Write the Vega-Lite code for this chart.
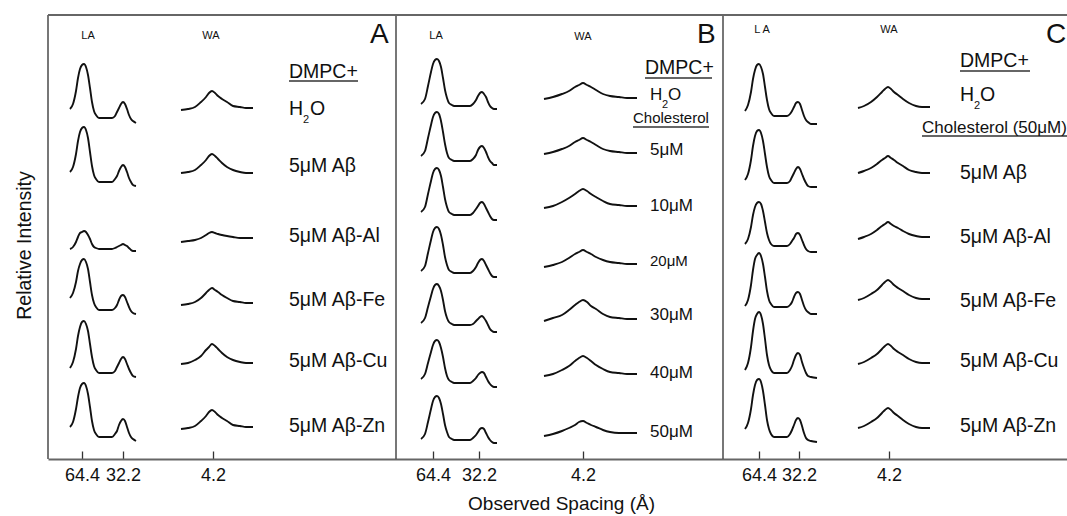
{
"$schema": "https://vega.github.io/schema/vega-lite/v6.json",
"width": 1019, "height": 444,
"autosize": {"type": "none"},
"padding": {"left": 48, "top": 15, "right": 0, "bottom": 57},
"background": "white",
"config": {"view": {"stroke": null}, "font": "Liberation Sans"},
"resolve": {"axis": {"x": "independent", "y": "independent"}},
"datasets": {
"curves": [
{"s":"A1L","x":22,"y":350},{"s":"A1L","x":25,"y":355},{"s":"A1L","x":28,"y":368},{"s":"A1L","x":30,"y":381},{"s":"A1L","x":32,"y":390},{"s":"A1L","x":34,"y":394},{"s":"A1L","x":36,"y":395},{"s":"A1L","x":38,"y":392},{"s":"A1L","x":40,"y":384},{"s":"A1L","x":42,"y":371},{"s":"A1L","x":44,"y":357},{"s":"A1L","x":46,"y":348},{"s":"A1L","x":48,"y":344},{"s":"A1L","x":51,"y":341},{"s":"A1L","x":58,"y":341},{"s":"A1L","x":64,"y":341},{"s":"A1L","x":67,"y":343},{"s":"A1L","x":69,"y":347},{"s":"A1L","x":71,"y":351},{"s":"A1L","x":73,"y":355},{"s":"A1L","x":75,"y":357},{"s":"A1L","x":77,"y":355},{"s":"A1L","x":79,"y":350},{"s":"A1L","x":81,"y":344},{"s":"A1L","x":83,"y":340},{"s":"A1L","x":85,"y":338},{"s":"A1L","x":88,"y":336},
{"s":"A2L","x":22,"y":287},{"s":"A2L","x":25,"y":292},{"s":"A2L","x":28,"y":305},{"s":"A2L","x":30,"y":318},{"s":"A2L","x":32,"y":327},{"s":"A2L","x":34,"y":331},{"s":"A2L","x":36,"y":332},{"s":"A2L","x":38,"y":329},{"s":"A2L","x":40,"y":321},{"s":"A2L","x":42,"y":307},{"s":"A2L","x":44,"y":293},{"s":"A2L","x":46,"y":284},{"s":"A2L","x":48,"y":280},{"s":"A2L","x":51,"y":277},{"s":"A2L","x":58,"y":277},{"s":"A2L","x":64,"y":277},{"s":"A2L","x":67,"y":280},{"s":"A2L","x":69,"y":283},{"s":"A2L","x":71,"y":288},{"s":"A2L","x":73,"y":292},{"s":"A2L","x":75,"y":294},{"s":"A2L","x":77,"y":292},{"s":"A2L","x":79,"y":287},{"s":"A2L","x":81,"y":281},{"s":"A2L","x":83,"y":277},{"s":"A2L","x":85,"y":274},{"s":"A2L","x":88,"y":273},
{"s":"A3L","x":22,"y":210},{"s":"A3L","x":25,"y":212},{"s":"A3L","x":28,"y":217},{"s":"A3L","x":30,"y":222},{"s":"A3L","x":32,"y":226},{"s":"A3L","x":34,"y":227},{"s":"A3L","x":36,"y":228},{"s":"A3L","x":38,"y":227},{"s":"A3L","x":40,"y":224},{"s":"A3L","x":42,"y":220},{"s":"A3L","x":44,"y":215},{"s":"A3L","x":46,"y":212},{"s":"A3L","x":48,"y":211},{"s":"A3L","x":51,"y":210},{"s":"A3L","x":58,"y":210},{"s":"A3L","x":64,"y":210},{"s":"A3L","x":67,"y":211},{"s":"A3L","x":69,"y":212},{"s":"A3L","x":71,"y":213},{"s":"A3L","x":73,"y":214},{"s":"A3L","x":75,"y":215},{"s":"A3L","x":77,"y":214},{"s":"A3L","x":79,"y":213},{"s":"A3L","x":81,"y":211},{"s":"A3L","x":83,"y":209},{"s":"A3L","x":85,"y":208},{"s":"A3L","x":88,"y":208},
{"s":"A4L","x":22,"y":161},{"s":"A4L","x":25,"y":166},{"s":"A4L","x":28,"y":177},{"s":"A4L","x":30,"y":188},{"s":"A4L","x":32,"y":195},{"s":"A4L","x":34,"y":199},{"s":"A4L","x":36,"y":200},{"s":"A4L","x":38,"y":197},{"s":"A4L","x":40,"y":190},{"s":"A4L","x":42,"y":177},{"s":"A4L","x":44,"y":164},{"s":"A4L","x":46,"y":156},{"s":"A4L","x":48,"y":152},{"s":"A4L","x":51,"y":149},{"s":"A4L","x":58,"y":149},{"s":"A4L","x":64,"y":149},{"s":"A4L","x":67,"y":151},{"s":"A4L","x":69,"y":154},{"s":"A4L","x":71,"y":159},{"s":"A4L","x":73,"y":163},{"s":"A4L","x":75,"y":164},{"s":"A4L","x":77,"y":162},{"s":"A4L","x":79,"y":157},{"s":"A4L","x":81,"y":152},{"s":"A4L","x":83,"y":148},{"s":"A4L","x":85,"y":146},{"s":"A4L","x":88,"y":145},
{"s":"A5L","x":22,"y":91},{"s":"A5L","x":25,"y":97},{"s":"A5L","x":28,"y":110},{"s":"A5L","x":30,"y":123},{"s":"A5L","x":32,"y":132},{"s":"A5L","x":34,"y":137},{"s":"A5L","x":36,"y":138},{"s":"A5L","x":38,"y":135},{"s":"A5L","x":40,"y":128},{"s":"A5L","x":42,"y":115},{"s":"A5L","x":44,"y":102},{"s":"A5L","x":46,"y":93},{"s":"A5L","x":48,"y":89},{"s":"A5L","x":51,"y":86},{"s":"A5L","x":58,"y":86},{"s":"A5L","x":64,"y":86},{"s":"A5L","x":67,"y":88},{"s":"A5L","x":69,"y":92},{"s":"A5L","x":71,"y":96},{"s":"A5L","x":73,"y":100},{"s":"A5L","x":75,"y":102},{"s":"A5L","x":77,"y":100},{"s":"A5L","x":79,"y":95},{"s":"A5L","x":81,"y":90},{"s":"A5L","x":83,"y":86},{"s":"A5L","x":85,"y":83},{"s":"A5L","x":88,"y":82},
{"s":"A6L","x":22,"y":32},{"s":"A6L","x":25,"y":37},{"s":"A6L","x":28,"y":50},{"s":"A6L","x":30,"y":62},{"s":"A6L","x":32,"y":71},{"s":"A6L","x":34,"y":75},{"s":"A6L","x":36,"y":76},{"s":"A6L","x":38,"y":73},{"s":"A6L","x":40,"y":65},{"s":"A6L","x":42,"y":52},{"s":"A6L","x":44,"y":38},{"s":"A6L","x":46,"y":29},{"s":"A6L","x":48,"y":25},{"s":"A6L","x":51,"y":22},{"s":"A6L","x":58,"y":22},{"s":"A6L","x":64,"y":22},{"s":"A6L","x":67,"y":25},{"s":"A6L","x":69,"y":28},{"s":"A6L","x":71,"y":34},{"s":"A6L","x":73,"y":38},{"s":"A6L","x":75,"y":40},{"s":"A6L","x":77,"y":38},{"s":"A6L","x":79,"y":32},{"s":"A6L","x":81,"y":26},{"s":"A6L","x":83,"y":22},{"s":"A6L","x":85,"y":20},{"s":"A6L","x":88,"y":18},
{"s":"A1W","x":133,"y":349},{"s":"A1W","x":140,"y":350},{"s":"A1W","x":147,"y":352},{"s":"A1W","x":153,"y":357},{"s":"A1W","x":158,"y":362},{"s":"A1W","x":161,"y":366},{"s":"A1W","x":164,"y":368},{"s":"A1W","x":167,"y":366},{"s":"A1W","x":170,"y":363},{"s":"A1W","x":174,"y":360},{"s":"A1W","x":179,"y":357},{"s":"A1W","x":185,"y":353},{"s":"A1W","x":192,"y":352},{"s":"A1W","x":198,"y":351},{"s":"A1W","x":205,"y":351},
{"s":"A2W","x":133,"y":286},{"s":"A2W","x":140,"y":287},{"s":"A2W","x":147,"y":289},{"s":"A2W","x":153,"y":294},{"s":"A2W","x":158,"y":299},{"s":"A2W","x":161,"y":303},{"s":"A2W","x":164,"y":305},{"s":"A2W","x":167,"y":303},{"s":"A2W","x":170,"y":300},{"s":"A2W","x":174,"y":296},{"s":"A2W","x":179,"y":292},{"s":"A2W","x":185,"y":289},{"s":"A2W","x":192,"y":287},{"s":"A2W","x":198,"y":286},{"s":"A2W","x":205,"y":286},
{"s":"A3W","x":133,"y":217},{"s":"A3W","x":140,"y":218},{"s":"A3W","x":147,"y":219},{"s":"A3W","x":153,"y":221},{"s":"A3W","x":158,"y":224},{"s":"A3W","x":161,"y":226},{"s":"A3W","x":164,"y":227},{"s":"A3W","x":167,"y":226},{"s":"A3W","x":170,"y":225},{"s":"A3W","x":174,"y":224},{"s":"A3W","x":179,"y":223},{"s":"A3W","x":185,"y":222},{"s":"A3W","x":192,"y":221},{"s":"A3W","x":198,"y":221},{"s":"A3W","x":205,"y":221},
{"s":"A4W","x":133,"y":154},{"s":"A4W","x":140,"y":155},{"s":"A4W","x":147,"y":157},{"s":"A4W","x":153,"y":161},{"s":"A4W","x":158,"y":166},{"s":"A4W","x":161,"y":169},{"s":"A4W","x":164,"y":171},{"s":"A4W","x":167,"y":169},{"s":"A4W","x":170,"y":167},{"s":"A4W","x":174,"y":164},{"s":"A4W","x":179,"y":161},{"s":"A4W","x":185,"y":158},{"s":"A4W","x":192,"y":157},{"s":"A4W","x":198,"y":156},{"s":"A4W","x":205,"y":156},
{"s":"A5W","x":133,"y":95},{"s":"A5W","x":140,"y":96},{"s":"A5W","x":147,"y":99},{"s":"A5W","x":153,"y":103},{"s":"A5W","x":158,"y":109},{"s":"A5W","x":161,"y":112},{"s":"A5W","x":164,"y":115},{"s":"A5W","x":167,"y":113},{"s":"A5W","x":170,"y":110},{"s":"A5W","x":174,"y":106},{"s":"A5W","x":179,"y":102},{"s":"A5W","x":185,"y":99},{"s":"A5W","x":192,"y":97},{"s":"A5W","x":198,"y":96},{"s":"A5W","x":205,"y":96},
{"s":"A6W","x":133,"y":30},{"s":"A6W","x":140,"y":31},{"s":"A6W","x":147,"y":33},{"s":"A6W","x":153,"y":38},{"s":"A6W","x":158,"y":43},{"s":"A6W","x":161,"y":47},{"s":"A6W","x":164,"y":49},{"s":"A6W","x":167,"y":47},{"s":"A6W","x":170,"y":44},{"s":"A6W","x":174,"y":41},{"s":"A6W","x":179,"y":38},{"s":"A6W","x":185,"y":34},{"s":"A6W","x":192,"y":33},{"s":"A6W","x":198,"y":32},{"s":"A6W","x":205,"y":32},
{"s":"B1L","x":373,"y":355},{"s":"B1L","x":377,"y":360},{"s":"B1L","x":380,"y":373},{"s":"B1L","x":383,"y":387},{"s":"B1L","x":385,"y":395},{"s":"B1L","x":387,"y":399},{"s":"B1L","x":389,"y":400},{"s":"B1L","x":391,"y":398},{"s":"B1L","x":393,"y":392},{"s":"B1L","x":395,"y":381},{"s":"B1L","x":397,"y":369},{"s":"B1L","x":399,"y":361},{"s":"B1L","x":401,"y":356},{"s":"B1L","x":404,"y":354},{"s":"B1L","x":406,"y":353},{"s":"B1L","x":414,"y":353},{"s":"B1L","x":422,"y":353},{"s":"B1L","x":425,"y":355},{"s":"B1L","x":428,"y":359},{"s":"B1L","x":430,"y":363},{"s":"B1L","x":432,"y":366},{"s":"B1L","x":434,"y":367},{"s":"B1L","x":436,"y":365},{"s":"B1L","x":438,"y":362},{"s":"B1L","x":440,"y":357},{"s":"B1L","x":442,"y":353},{"s":"B1L","x":444,"y":351},{"s":"B1L","x":446,"y":350},{"s":"B1L","x":449,"y":350},
{"s":"B2L","x":373,"y":303},{"s":"B2L","x":377,"y":308},{"s":"B2L","x":380,"y":321},{"s":"B2L","x":383,"y":334},{"s":"B2L","x":385,"y":342},{"s":"B2L","x":387,"y":346},{"s":"B2L","x":389,"y":347},{"s":"B2L","x":391,"y":345},{"s":"B2L","x":393,"y":338},{"s":"B2L","x":395,"y":327},{"s":"B2L","x":397,"y":315},{"s":"B2L","x":399,"y":306},{"s":"B2L","x":401,"y":301},{"s":"B2L","x":404,"y":299},{"s":"B2L","x":406,"y":298},{"s":"B2L","x":414,"y":298},{"s":"B2L","x":422,"y":298},{"s":"B2L","x":425,"y":300},{"s":"B2L","x":428,"y":304},{"s":"B2L","x":430,"y":309},{"s":"B2L","x":432,"y":312},{"s":"B2L","x":434,"y":313},{"s":"B2L","x":436,"y":311},{"s":"B2L","x":438,"y":307},{"s":"B2L","x":440,"y":302},{"s":"B2L","x":442,"y":298},{"s":"B2L","x":444,"y":296},{"s":"B2L","x":446,"y":294},{"s":"B2L","x":449,"y":294},
{"s":"B3L","x":373,"y":247},{"s":"B3L","x":377,"y":252},{"s":"B3L","x":380,"y":265},{"s":"B3L","x":383,"y":278},{"s":"B3L","x":385,"y":286},{"s":"B3L","x":387,"y":290},{"s":"B3L","x":389,"y":291},{"s":"B3L","x":391,"y":289},{"s":"B3L","x":393,"y":283},{"s":"B3L","x":395,"y":272},{"s":"B3L","x":397,"y":260},{"s":"B3L","x":399,"y":252},{"s":"B3L","x":401,"y":247},{"s":"B3L","x":404,"y":245},{"s":"B3L","x":406,"y":244},{"s":"B3L","x":414,"y":244},{"s":"B3L","x":422,"y":244},{"s":"B3L","x":425,"y":246},{"s":"B3L","x":428,"y":250},{"s":"B3L","x":430,"y":253},{"s":"B3L","x":432,"y":256},{"s":"B3L","x":434,"y":257},{"s":"B3L","x":436,"y":255},{"s":"B3L","x":438,"y":251},{"s":"B3L","x":440,"y":247},{"s":"B3L","x":442,"y":243},{"s":"B3L","x":444,"y":240},{"s":"B3L","x":446,"y":239},{"s":"B3L","x":449,"y":239},
{"s":"B4L","x":373,"y":188},{"s":"B4L","x":377,"y":193},{"s":"B4L","x":380,"y":206},{"s":"B4L","x":383,"y":219},{"s":"B4L","x":385,"y":227},{"s":"B4L","x":387,"y":231},{"s":"B4L","x":389,"y":232},{"s":"B4L","x":391,"y":230},{"s":"B4L","x":393,"y":224},{"s":"B4L","x":395,"y":214},{"s":"B4L","x":397,"y":202},{"s":"B4L","x":399,"y":194},{"s":"B4L","x":401,"y":189},{"s":"B4L","x":404,"y":187},{"s":"B4L","x":406,"y":186},{"s":"B4L","x":414,"y":186},{"s":"B4L","x":422,"y":186},{"s":"B4L","x":425,"y":188},{"s":"B4L","x":428,"y":192},{"s":"B4L","x":430,"y":196},{"s":"B4L","x":432,"y":199},{"s":"B4L","x":434,"y":200},{"s":"B4L","x":436,"y":198},{"s":"B4L","x":438,"y":194},{"s":"B4L","x":440,"y":190},{"s":"B4L","x":442,"y":186},{"s":"B4L","x":444,"y":183},{"s":"B4L","x":446,"y":182},{"s":"B4L","x":449,"y":182},
{"s":"B5L","x":373,"y":136},{"s":"B5L","x":377,"y":141},{"s":"B5L","x":380,"y":152},{"s":"B5L","x":383,"y":163},{"s":"B5L","x":385,"y":170},{"s":"B5L","x":387,"y":174},{"s":"B5L","x":389,"y":175},{"s":"B5L","x":391,"y":173},{"s":"B5L","x":393,"y":168},{"s":"B5L","x":395,"y":159},{"s":"B5L","x":397,"y":148},{"s":"B5L","x":399,"y":141},{"s":"B5L","x":401,"y":137},{"s":"B5L","x":404,"y":135},{"s":"B5L","x":406,"y":134},{"s":"B5L","x":414,"y":134},{"s":"B5L","x":422,"y":134},{"s":"B5L","x":425,"y":135},{"s":"B5L","x":428,"y":138},{"s":"B5L","x":430,"y":140},{"s":"B5L","x":432,"y":142},{"s":"B5L","x":434,"y":143},{"s":"B5L","x":436,"y":141},{"s":"B5L","x":438,"y":138},{"s":"B5L","x":440,"y":134},{"s":"B5L","x":442,"y":130},{"s":"B5L","x":444,"y":128},{"s":"B5L","x":446,"y":127},{"s":"B5L","x":449,"y":127},
{"s":"B6L","x":373,"y":80},{"s":"B6L","x":377,"y":85},{"s":"B6L","x":380,"y":96},{"s":"B6L","x":383,"y":107},{"s":"B6L","x":385,"y":114},{"s":"B6L","x":387,"y":118},{"s":"B6L","x":389,"y":119},{"s":"B6L","x":391,"y":117},{"s":"B6L","x":393,"y":111},{"s":"B6L","x":395,"y":102},{"s":"B6L","x":397,"y":91},{"s":"B6L","x":399,"y":83},{"s":"B6L","x":401,"y":79},{"s":"B6L","x":404,"y":77},{"s":"B6L","x":406,"y":76},{"s":"B6L","x":414,"y":76},{"s":"B6L","x":422,"y":76},{"s":"B6L","x":425,"y":78},{"s":"B6L","x":428,"y":81},{"s":"B6L","x":430,"y":84},{"s":"B6L","x":432,"y":86},{"s":"B6L","x":434,"y":87},{"s":"B6L","x":436,"y":86},{"s":"B6L","x":438,"y":82},{"s":"B6L","x":440,"y":78},{"s":"B6L","x":442,"y":75},{"s":"B6L","x":444,"y":73},{"s":"B6L","x":446,"y":72},{"s":"B6L","x":449,"y":72},
{"s":"B7L","x":373,"y":20},{"s":"B7L","x":377,"y":25},{"s":"B7L","x":380,"y":37},{"s":"B7L","x":383,"y":50},{"s":"B7L","x":385,"y":58},{"s":"B7L","x":387,"y":62},{"s":"B7L","x":389,"y":63},{"s":"B7L","x":391,"y":61},{"s":"B7L","x":393,"y":55},{"s":"B7L","x":395,"y":45},{"s":"B7L","x":397,"y":34},{"s":"B7L","x":399,"y":27},{"s":"B7L","x":401,"y":22},{"s":"B7L","x":404,"y":20},{"s":"B7L","x":406,"y":19},{"s":"B7L","x":414,"y":19},{"s":"B7L","x":422,"y":19},{"s":"B7L","x":425,"y":21},{"s":"B7L","x":428,"y":24},{"s":"B7L","x":430,"y":27},{"s":"B7L","x":432,"y":30},{"s":"B7L","x":434,"y":31},{"s":"B7L","x":436,"y":30},{"s":"B7L","x":438,"y":26},{"s":"B7L","x":440,"y":22},{"s":"B7L","x":442,"y":19},{"s":"B7L","x":444,"y":17},{"s":"B7L","x":446,"y":16},{"s":"B7L","x":449,"y":16},
{"s":"B1W","x":496,"y":360},{"s":"B1W","x":505,"y":362},{"s":"B1W","x":514,"y":365},{"s":"B1W","x":521,"y":368},{"s":"B1W","x":527,"y":372},{"s":"B1W","x":531,"y":374},{"s":"B1W","x":535,"y":376},{"s":"B1W","x":539,"y":374},{"s":"B1W","x":543,"y":372},{"s":"B1W","x":548,"y":369},{"s":"B1W","x":555,"y":365},{"s":"B1W","x":562,"y":363},{"s":"B1W","x":571,"y":362},{"s":"B1W","x":579,"y":361},{"s":"B1W","x":589,"y":361},
{"s":"B2W","x":496,"y":305},{"s":"B2W","x":505,"y":307},{"s":"B2W","x":514,"y":310},{"s":"B2W","x":521,"y":313},{"s":"B2W","x":527,"y":317},{"s":"B2W","x":531,"y":319},{"s":"B2W","x":535,"y":321},{"s":"B2W","x":539,"y":319},{"s":"B2W","x":543,"y":317},{"s":"B2W","x":548,"y":314},{"s":"B2W","x":555,"y":310},{"s":"B2W","x":562,"y":308},{"s":"B2W","x":571,"y":307},{"s":"B2W","x":579,"y":306},{"s":"B2W","x":589,"y":306},
{"s":"B3W","x":496,"y":251},{"s":"B3W","x":505,"y":253},{"s":"B3W","x":514,"y":257},{"s":"B3W","x":521,"y":261},{"s":"B3W","x":527,"y":265},{"s":"B3W","x":531,"y":268},{"s":"B3W","x":535,"y":270},{"s":"B3W","x":539,"y":268},{"s":"B3W","x":543,"y":265},{"s":"B3W","x":548,"y":262},{"s":"B3W","x":555,"y":258},{"s":"B3W","x":562,"y":255},{"s":"B3W","x":571,"y":254},{"s":"B3W","x":579,"y":253},{"s":"B3W","x":589,"y":253},
{"s":"B4W","x":496,"y":192},{"s":"B4W","x":505,"y":194},{"s":"B4W","x":514,"y":197},{"s":"B4W","x":521,"y":201},{"s":"B4W","x":527,"y":205},{"s":"B4W","x":531,"y":207},{"s":"B4W","x":535,"y":209},{"s":"B4W","x":539,"y":207},{"s":"B4W","x":543,"y":205},{"s":"B4W","x":548,"y":202},{"s":"B4W","x":555,"y":199},{"s":"B4W","x":562,"y":197},{"s":"B4W","x":571,"y":196},{"s":"B4W","x":579,"y":195},{"s":"B4W","x":589,"y":195},
{"s":"B5W","x":496,"y":138},{"s":"B5W","x":505,"y":141},{"s":"B5W","x":514,"y":144},{"s":"B5W","x":521,"y":149},{"s":"B5W","x":527,"y":154},{"s":"B5W","x":531,"y":157},{"s":"B5W","x":535,"y":159},{"s":"B5W","x":539,"y":157},{"s":"B5W","x":543,"y":153},{"s":"B5W","x":548,"y":150},{"s":"B5W","x":555,"y":145},{"s":"B5W","x":562,"y":142},{"s":"B5W","x":571,"y":141},{"s":"B5W","x":579,"y":140},{"s":"B5W","x":589,"y":140},
{"s":"B6W","x":496,"y":83},{"s":"B6W","x":505,"y":85},{"s":"B6W","x":514,"y":89},{"s":"B6W","x":521,"y":93},{"s":"B6W","x":527,"y":98},{"s":"B6W","x":531,"y":101},{"s":"B6W","x":535,"y":103},{"s":"B6W","x":539,"y":101},{"s":"B6W","x":543,"y":98},{"s":"B6W","x":548,"y":94},{"s":"B6W","x":555,"y":90},{"s":"B6W","x":562,"y":87},{"s":"B6W","x":571,"y":86},{"s":"B6W","x":579,"y":85},{"s":"B6W","x":589,"y":85},
{"s":"B7W","x":496,"y":23},{"s":"B7W","x":505,"y":25},{"s":"B7W","x":514,"y":28},{"s":"B7W","x":521,"y":31},{"s":"B7W","x":527,"y":34},{"s":"B7W","x":531,"y":37},{"s":"B7W","x":535,"y":38},{"s":"B7W","x":539,"y":36},{"s":"B7W","x":543,"y":34},{"s":"B7W","x":548,"y":32},{"s":"B7W","x":555,"y":29},{"s":"B7W","x":562,"y":27},{"s":"B7W","x":571,"y":26},{"s":"B7W","x":579,"y":26},{"s":"B7W","x":589,"y":26},
{"s":"C1L","x":697,"y":348},{"s":"C1L","x":700,"y":354},{"s":"C1L","x":703,"y":367},{"s":"C1L","x":705,"y":380},{"s":"C1L","x":707,"y":389},{"s":"C1L","x":709,"y":394},{"s":"C1L","x":711,"y":395},{"s":"C1L","x":713,"y":392},{"s":"C1L","x":715,"y":385},{"s":"C1L","x":717,"y":372},{"s":"C1L","x":719,"y":359},{"s":"C1L","x":721,"y":350},{"s":"C1L","x":723,"y":346},{"s":"C1L","x":726,"y":343},{"s":"C1L","x":732,"y":343},{"s":"C1L","x":739,"y":343},{"s":"C1L","x":742,"y":345},{"s":"C1L","x":744,"y":348},{"s":"C1L","x":746,"y":352},{"s":"C1L","x":748,"y":356},{"s":"C1L","x":750,"y":357},{"s":"C1L","x":752,"y":355},{"s":"C1L","x":754,"y":349},{"s":"C1L","x":756,"y":343},{"s":"C1L","x":758,"y":339},{"s":"C1L","x":760,"y":337},{"s":"C1L","x":763,"y":335},{"s":"C1L","x":769,"y":335},
{"s":"C2L","x":697,"y":279},{"s":"C2L","x":700,"y":285},{"s":"C2L","x":703,"y":299},{"s":"C2L","x":705,"y":313},{"s":"C2L","x":707,"y":323},{"s":"C2L","x":709,"y":328},{"s":"C2L","x":711,"y":329},{"s":"C2L","x":713,"y":326},{"s":"C2L","x":715,"y":318},{"s":"C2L","x":717,"y":305},{"s":"C2L","x":719,"y":292},{"s":"C2L","x":721,"y":283},{"s":"C2L","x":723,"y":279},{"s":"C2L","x":726,"y":276},{"s":"C2L","x":732,"y":276},{"s":"C2L","x":739,"y":276},{"s":"C2L","x":742,"y":278},{"s":"C2L","x":744,"y":282},{"s":"C2L","x":746,"y":286},{"s":"C2L","x":748,"y":290},{"s":"C2L","x":750,"y":292},{"s":"C2L","x":752,"y":290},{"s":"C2L","x":754,"y":285},{"s":"C2L","x":756,"y":280},{"s":"C2L","x":758,"y":276},{"s":"C2L","x":760,"y":273},{"s":"C2L","x":763,"y":272},{"s":"C2L","x":769,"y":272},
{"s":"C3L","x":697,"y":215},{"s":"C3L","x":700,"y":220},{"s":"C3L","x":703,"y":232},{"s":"C3L","x":705,"y":244},{"s":"C3L","x":707,"y":252},{"s":"C3L","x":709,"y":256},{"s":"C3L","x":711,"y":257},{"s":"C3L","x":713,"y":255},{"s":"C3L","x":715,"y":248},{"s":"C3L","x":717,"y":237},{"s":"C3L","x":719,"y":226},{"s":"C3L","x":721,"y":219},{"s":"C3L","x":723,"y":215},{"s":"C3L","x":726,"y":213},{"s":"C3L","x":732,"y":213},{"s":"C3L","x":739,"y":213},{"s":"C3L","x":742,"y":215},{"s":"C3L","x":744,"y":218},{"s":"C3L","x":746,"y":221},{"s":"C3L","x":748,"y":225},{"s":"C3L","x":750,"y":226},{"s":"C3L","x":752,"y":224},{"s":"C3L","x":754,"y":219},{"s":"C3L","x":756,"y":214},{"s":"C3L","x":758,"y":210},{"s":"C3L","x":760,"y":208},{"s":"C3L","x":763,"y":207},{"s":"C3L","x":769,"y":207},
{"s":"C4L","x":697,"y":153},{"s":"C4L","x":700,"y":159},{"s":"C4L","x":703,"y":174},{"s":"C4L","x":705,"y":189},{"s":"C4L","x":707,"y":200},{"s":"C4L","x":709,"y":204},{"s":"C4L","x":711,"y":206},{"s":"C4L","x":713,"y":203},{"s":"C4L","x":715,"y":195},{"s":"C4L","x":717,"y":182},{"s":"C4L","x":719,"y":168},{"s":"C4L","x":721,"y":159},{"s":"C4L","x":723,"y":155},{"s":"C4L","x":726,"y":152},{"s":"C4L","x":732,"y":152},{"s":"C4L","x":739,"y":152},{"s":"C4L","x":742,"y":154},{"s":"C4L","x":744,"y":157},{"s":"C4L","x":746,"y":162},{"s":"C4L","x":748,"y":166},{"s":"C4L","x":750,"y":167},{"s":"C4L","x":752,"y":165},{"s":"C4L","x":754,"y":159},{"s":"C4L","x":756,"y":153},{"s":"C4L","x":758,"y":149},{"s":"C4L","x":760,"y":147},{"s":"C4L","x":763,"y":145},{"s":"C4L","x":769,"y":145},
{"s":"C5L","x":697,"y":89},{"s":"C5L","x":700,"y":96},{"s":"C5L","x":703,"y":112},{"s":"C5L","x":705,"y":128},{"s":"C5L","x":707,"y":140},{"s":"C5L","x":709,"y":145},{"s":"C5L","x":711,"y":147},{"s":"C5L","x":713,"y":144},{"s":"C5L","x":715,"y":135},{"s":"C5L","x":717,"y":120},{"s":"C5L","x":719,"y":104},{"s":"C5L","x":721,"y":94},{"s":"C5L","x":723,"y":89},{"s":"C5L","x":726,"y":86},{"s":"C5L","x":732,"y":86},{"s":"C5L","x":739,"y":86},{"s":"C5L","x":742,"y":89},{"s":"C5L","x":744,"y":93},{"s":"C5L","x":746,"y":99},{"s":"C5L","x":748,"y":104},{"s":"C5L","x":750,"y":106},{"s":"C5L","x":752,"y":104},{"s":"C5L","x":754,"y":97},{"s":"C5L","x":756,"y":91},{"s":"C5L","x":758,"y":86},{"s":"C5L","x":760,"y":83},{"s":"C5L","x":763,"y":82},{"s":"C5L","x":769,"y":81},
{"s":"C6L","x":697,"y":30},{"s":"C6L","x":700,"y":36},{"s":"C6L","x":703,"y":50},{"s":"C6L","x":705,"y":64},{"s":"C6L","x":707,"y":74},{"s":"C6L","x":709,"y":79},{"s":"C6L","x":711,"y":80},{"s":"C6L","x":713,"y":77},{"s":"C6L","x":715,"y":68},{"s":"C6L","x":717,"y":54},{"s":"C6L","x":719,"y":39},{"s":"C6L","x":721,"y":30},{"s":"C6L","x":723,"y":25},{"s":"C6L","x":726,"y":22},{"s":"C6L","x":732,"y":22},{"s":"C6L","x":739,"y":22},{"s":"C6L","x":742,"y":25},{"s":"C6L","x":744,"y":29},{"s":"C6L","x":746,"y":34},{"s":"C6L","x":748,"y":39},{"s":"C6L","x":750,"y":41},{"s":"C6L","x":752,"y":39},{"s":"C6L","x":754,"y":33},{"s":"C6L","x":756,"y":26},{"s":"C6L","x":758,"y":21},{"s":"C6L","x":760,"y":19},{"s":"C6L","x":763,"y":18},{"s":"C6L","x":769,"y":17},
{"s":"C1W","x":810,"y":351},{"s":"C1W","x":816,"y":353},{"s":"C1W","x":823,"y":357},{"s":"C1W","x":829,"y":362},{"s":"C1W","x":834,"y":367},{"s":"C1W","x":837,"y":370},{"s":"C1W","x":840,"y":372},{"s":"C1W","x":843,"y":370},{"s":"C1W","x":846,"y":367},{"s":"C1W","x":850,"y":364},{"s":"C1W","x":855,"y":360},{"s":"C1W","x":861,"y":356},{"s":"C1W","x":868,"y":353},{"s":"C1W","x":874,"y":352},{"s":"C1W","x":882,"y":352},
{"s":"C2W","x":810,"y":286},{"s":"C2W","x":816,"y":288},{"s":"C2W","x":823,"y":291},{"s":"C2W","x":829,"y":295},{"s":"C2W","x":834,"y":299},{"s":"C2W","x":837,"y":301},{"s":"C2W","x":840,"y":303},{"s":"C2W","x":843,"y":301},{"s":"C2W","x":846,"y":299},{"s":"C2W","x":850,"y":296},{"s":"C2W","x":855,"y":293},{"s":"C2W","x":861,"y":289},{"s":"C2W","x":868,"y":287},{"s":"C2W","x":874,"y":286},{"s":"C2W","x":882,"y":286},
{"s":"C3W","x":810,"y":220},{"s":"C3W","x":816,"y":222},{"s":"C3W","x":823,"y":225},{"s":"C3W","x":829,"y":229},{"s":"C3W","x":834,"y":233},{"s":"C3W","x":837,"y":235},{"s":"C3W","x":840,"y":237},{"s":"C3W","x":843,"y":235},{"s":"C3W","x":846,"y":233},{"s":"C3W","x":850,"y":231},{"s":"C3W","x":855,"y":228},{"s":"C3W","x":861,"y":225},{"s":"C3W","x":868,"y":223},{"s":"C3W","x":874,"y":222},{"s":"C3W","x":882,"y":222},
{"s":"C4W","x":810,"y":159},{"s":"C4W","x":816,"y":161},{"s":"C4W","x":823,"y":165},{"s":"C4W","x":829,"y":169},{"s":"C4W","x":834,"y":174},{"s":"C4W","x":837,"y":177},{"s":"C4W","x":840,"y":179},{"s":"C4W","x":843,"y":177},{"s":"C4W","x":846,"y":174},{"s":"C4W","x":850,"y":171},{"s":"C4W","x":855,"y":168},{"s":"C4W","x":861,"y":164},{"s":"C4W","x":868,"y":161},{"s":"C4W","x":874,"y":160},{"s":"C4W","x":882,"y":160},
{"s":"C5W","x":810,"y":95},{"s":"C5W","x":816,"y":97},{"s":"C5W","x":823,"y":101},{"s":"C5W","x":829,"y":105},{"s":"C5W","x":834,"y":110},{"s":"C5W","x":837,"y":113},{"s":"C5W","x":840,"y":115},{"s":"C5W","x":843,"y":113},{"s":"C5W","x":846,"y":110},{"s":"C5W","x":850,"y":107},{"s":"C5W","x":855,"y":104},{"s":"C5W","x":861,"y":100},{"s":"C5W","x":868,"y":97},{"s":"C5W","x":874,"y":96},{"s":"C5W","x":882,"y":96},
{"s":"C6W","x":810,"y":31},{"s":"C6W","x":816,"y":33},{"s":"C6W","x":823,"y":37},{"s":"C6W","x":829,"y":41},{"s":"C6W","x":834,"y":46},{"s":"C6W","x":837,"y":49},{"s":"C6W","x":840,"y":51},{"s":"C6W","x":843,"y":49},{"s":"C6W","x":846,"y":46},{"s":"C6W","x":850,"y":43},{"s":"C6W","x":855,"y":39},{"s":"C6W","x":861,"y":35},{"s":"C6W","x":868,"y":32},{"s":"C6W","x":874,"y":31},{"s":"C6W","x":882,"y":31}
],
"frame": [{"x":0},{"x":348},{"x":675}],
"top": [{"y":444}],
"underlines": [{"x":241,"x2":310,"y":378},{"x":597,"x2":664,"y":381},{"x":585,"x2":661,"y":332},{"x":912,"x2":982,"y":388},{"x":874,"x2":1019,"y":323}],
"labels19": [
{"t":"DMPC+","x":241,"y":381},{"t":"H","x":241,"y":344},{"t":"O","x":262,"y":344},
{"t":"5μM Aβ","x":241,"y":287},{"t":"5μM Aβ-Al","x":241,"y":217},{"t":"5μM Aβ-Fe","x":241,"y":153},{"t":"5μM Aβ-Cu","x":241,"y":92},{"t":"5μM Aβ-Zn","x":241,"y":27},
{"t":"DMPC+","x":597,"y":385},
{"t":"DMPC+","x":912,"y":392},{"t":"H","x":912,"y":358},{"t":"O","x":932,"y":358},
{"t":"5μM Aβ","x":912,"y":280},{"t":"5μM Aβ-Al","x":912,"y":216},{"t":"5μM Aβ-Fe","x":912,"y":152},{"t":"5μM Aβ-Cu","x":912,"y":92},{"t":"5μM Aβ-Zn","x":912,"y":27}
],
"labels17": [
{"t":"H","x":602,"y":359},{"t":"O","x":620,"y":359},
{"t":"5μM","x":602,"y":304},{"t":"10μM","x":602,"y":248},{"t":"30μM","x":602,"y":139},{"t":"40μM","x":602,"y":81},{"t":"50μM","x":602,"y":22},
{"t":"Cholesterol (50μM)","x":874,"y":326}
],
"labels15": [{"t":"Cholesterol","x":585,"y":336},{"t":"20μM","x":602,"y":193}],
"subs": [{"t":"2","x":255,"y":336},{"t":"2","x":614,"y":351},{"t":"2","x":926,"y":350}],
"regions": [{"t":"LA","x":40,"y":420},{"t":"WA","x":163,"y":420},{"t":"LA","x":388,"y":420},{"t":"WA","x":535,"y":419},{"t":"L A","x":714,"y":426},{"t":"WA","x":841,"y":426}],
"letters": [{"t":"A","x":322,"y":416},{"t":"B","x":649,"y":416},{"t":"C","x":998,"y":416}]
},
"layer": [
{"data": {"name": "curves"},
 "mark": {"type": "line", "interpolate": "monotone", "stroke": "#111", "strokeWidth": 1.9, "strokeJoin": "round"},
 "encoding": {
  "x": {"field": "x", "type": "quantitative", "scale": {"domain": [0, 1019], "nice": false, "zero": false},
   "axis": {"orient": "bottom", "values": [34, 75, 165, 385, 431, 535, 711, 751, 841],
    "labelExpr": "indexof([34,385,711], datum.value) >= 0 ? '64.4' : (indexof([75,431,751], datum.value) >= 0 ? '32.2' : '4.2')",
    "grid": false, "domain": true, "domainColor": "#666", "domainWidth": 2, "ticks": true, "tickColor": "#333", "tickWidth": 1.3, "tickSize": -8,
    "labels": true, "labelPadding": 15, "labelFont": "Liberation Sans", "labelFontSize": 18, "labelColor": "#111", "labelFlush": false, "labelOverlap": false,
    "title": "Observed Spacing (Å)", "titleFont": "Liberation Sans", "titleFontSize": 19, "titleFontWeight": "normal", "titleColor": "#111",
    "titleX": 513, "titleY": 50, "titleBaseline": "alphabetic"}},
  "y": {"field": "y", "type": "quantitative", "scale": {"domain": [0, 444], "nice": false, "zero": false},
   "axis": {"orient": "left", "domain": false, "ticks": false, "labels": false, "grid": false,
    "title": "Relative Intensity", "titleFont": "Liberation Sans", "titleFontSize": 19.5, "titleFontWeight": "normal", "titleColor": "#111",
    "titleAngle": 270, "titleX": -18, "titleY": 230, "titleBaseline": "alphabetic"}},
  "detail": {"field": "s", "type": "nominal"}
 }},
{"data": {"name": "frame"}, "mark": {"type": "rule", "stroke": "#555", "strokeWidth": 1.6},
 "encoding": {"x": {"field": "x", "type": "quantitative", "axis": null}}},
{"data": {"name": "top"}, "mark": {"type": "rule", "stroke": "#666", "strokeWidth": 2},
 "encoding": {"y": {"field": "y", "type": "quantitative", "axis": null}}},
{"data": {"name": "underlines"}, "mark": {"type": "rule", "stroke": "#333", "strokeWidth": 1.5},
 "encoding": {"x": {"field": "x", "type": "quantitative", "axis": null}, "x2": {"field": "x2"}, "y": {"field": "y", "type": "quantitative", "axis": null}}},
{"data": {"name": "labels19"}, "mark": {"type": "text", "align": "left", "baseline": "alphabetic", "font": "Liberation Sans", "fontSize": 19.5, "color": "#111"},
 "encoding": {"x": {"field": "x", "type": "quantitative", "axis": null}, "y": {"field": "y", "type": "quantitative", "axis": null}, "text": {"field": "t"}}},
{"data": {"name": "labels17"}, "mark": {"type": "text", "align": "left", "baseline": "alphabetic", "font": "Liberation Sans", "fontSize": 17, "color": "#111"},
 "encoding": {"x": {"field": "x", "type": "quantitative", "axis": null}, "y": {"field": "y", "type": "quantitative", "axis": null}, "text": {"field": "t"}}},
{"data": {"name": "labels15"}, "mark": {"type": "text", "align": "left", "baseline": "alphabetic", "font": "Liberation Sans", "fontSize": 15, "color": "#111"},
 "encoding": {"x": {"field": "x", "type": "quantitative", "axis": null}, "y": {"field": "y", "type": "quantitative", "axis": null}, "text": {"field": "t"}}},
{"data": {"name": "subs"}, "mark": {"type": "text", "align": "left", "baseline": "alphabetic", "font": "Liberation Sans", "fontSize": 11, "color": "#111"},
 "encoding": {"x": {"field": "x", "type": "quantitative", "axis": null}, "y": {"field": "y", "type": "quantitative", "axis": null}, "text": {"field": "t"}}},
{"data": {"name": "regions"}, "mark": {"type": "text", "align": "center", "baseline": "alphabetic", "font": "Liberation Sans", "fontSize": 11, "color": "#111"},
 "encoding": {"x": {"field": "x", "type": "quantitative", "axis": null}, "y": {"field": "y", "type": "quantitative", "axis": null}, "text": {"field": "t"}}},
{"data": {"name": "letters"}, "mark": {"type": "text", "align": "left", "baseline": "alphabetic", "font": "Liberation Sans", "fontSize": 28, "color": "#111"},
 "encoding": {"x": {"field": "x", "type": "quantitative", "axis": null}, "y": {"field": "y", "type": "quantitative", "axis": null}, "text": {"field": "t"}}}
]
}
